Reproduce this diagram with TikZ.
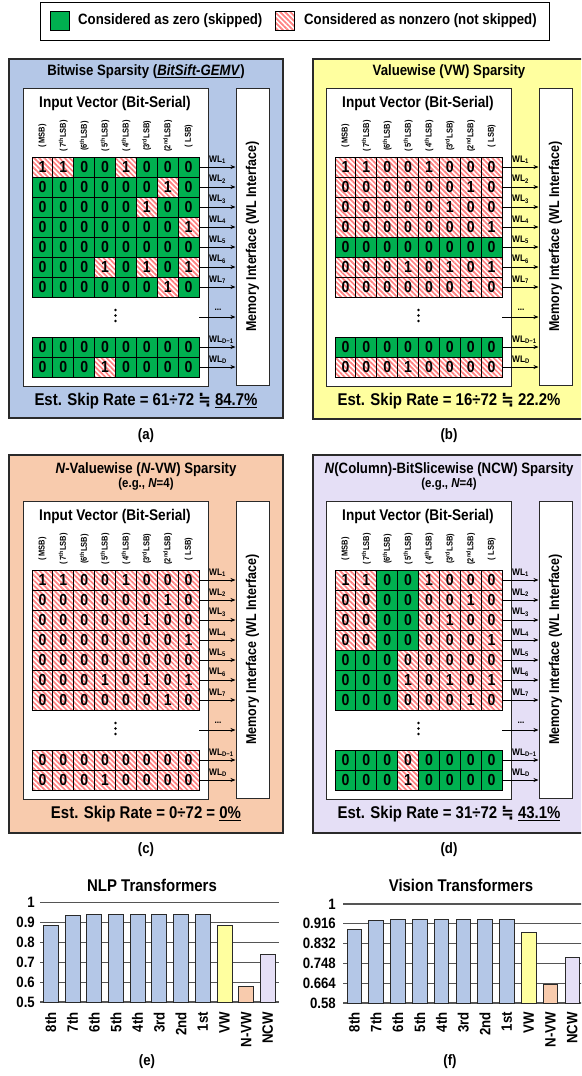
\documentclass[tikz,border=0pt]{standalone}
\usepackage{fontspec}
\setmainfont{Liberation Sans}[FakeStretch=0.88]
\newfontfamily\symf{DejaVu Sans}[FakeStretch=0.88]
\usetikzlibrary{patterns.meta,arrows.meta}
\definecolor{pblue}{HTML}{B4C7E7}
\definecolor{pyel}{HTML}{FFFF9F}
\definecolor{ppeach}{HTML}{F8CBAD}
\definecolor{plav}{HTML}{E5DFF6}
\definecolor{zgreen}{HTML}{00B050}
\definecolor{hred}{HTML}{FF8080}
\definecolor{edgec}{HTML}{2A2A2A}
\definecolor{gridc}{HTML}{555555}
\newcommand\fs[1]{\fontsize{#1}{#1}\selectfont\bfseries}
\newcommand\approxeq{{\symf\bfseries ≒}}
\newcommand\panelbody[3]{%
  \node[wbox, minimum width=185pt, minimum height=298pt] (#1-wb) at ({#2+115.5},{#3+237}) {};
  \node[wbox, minimum width=33pt, minimum height=297pt] (#1-mem) at ({#2+252.5},{#3+236.5}) {};
  \node[rotate=90, font=\fs{14.2}] (#1-memt) at (#1-mem.center) {Memory Interface (WL Interface)};
  \node[font=\fs{15.5}] (#1-ivt) at ({#2+115},{#3+103}) {Input Vector (Bit-Serial)};
  \foreach \lab [count=\i] in {{(\ MSB)},{(\ 7\textsuperscript{th}LSB)},{(6\textsuperscript{th}LSB)},{(\ 5\textsuperscript{th}LSB)},{(\ 4\textsuperscript{th}LSB)},{(3\textsuperscript{rd}LSB)},{(2\textsuperscript{nd}LSB)},{(\ LSB)}}{%
    \node[rotate=90, font=\fs{8.5}] (#1-col\i) at ({#2+32+(\i-0.5)*20.875},{#3+136}) {\lab};}
  \foreach \yy in {310,315.5,321} \fill ({#2+115.5},{#3+\yy}) circle (1.3pt);
  \coordinate (#1-dots) at ({#2+199},{#3+317});
  \draw[wl] (#1-dots) -- (#1-dots -| #1-mem.west);
  \node[font=\fs{9.5}] (#1-dotl) at ({#2+218},{#3+310}) {...};
}
\newcommand\gridrow[6]{%
  \foreach \d/\t [count=\i] in {#5}{%
    \node[cell\t] (#1-#2-\i) at ({#3+32+(\i-0.5)*20.875},{#4+10}) {\d};}
  \draw[wl] (#1-#2-8.east) -- (#1-#2-8.east -| #1-mem.west);
  \node[anchor=west, font=\fs{9.5}] (#1-#2-wl) at ({#3+209},{#4+2.5}) {WL\textsubscript{#6}};
}
\begin{document}
\begin{tikzpicture}[x=1pt,y=-1pt,
  every node/.style={inner sep=0pt},
  pbox/.style={draw=edgec, line width=1.2pt},
  wbox/.style={draw=edgec, line width=1pt, fill=white},
  cellbase/.style={draw=black, line width=0.8pt, minimum width=20.875pt, minimum height=20pt, inner sep=0pt, font=\fs{16}},
  cellg/.style={cellbase, fill=zgreen},
  cellh/.style={cellbase, preaction={fill=white}, pattern={Lines[angle=-45,distance=3.6pt,line width=1.7pt]}, pattern color=hred},
  wl/.style={-{Stealth[length=5pt,width=4pt]}, line width=0.8pt},
  ttl/.style={font=\fs{15}},
  skr/.style={font=\fs{17}},
  lab/.style={font=\fs{15}},
  gridl/.style={draw=gridc, line width=1.2pt},
  bar/.style={draw=edgec, line width=0.8pt},
  tick/.style={font=\fs{15}},
]
\useasboundingbox (0,0) rectangle (581,1076);
\clip (0,0) rectangle (581,1076);
% legend
\node[draw=black, line width=1pt, fill=white, minimum width=509pt, minimum height=38pt] (leg) at (294.5,21) {};
\node[cellg, minimum width=19pt, minimum height=19pt] (leg-g) at (59.5,21) {};
\node[anchor=west, font=\fs{15}] (leg-gt) at (78,21) {Considered as zero (skipped)};
\node[cellh, minimum width=19pt, minimum height=19pt] (leg-h) at (285,21) {};
\node[anchor=west, font=\fs{15}] (leg-ht) at (304,21) {Considered as nonzero (not skipped)};

% ---------- panel (a)
\node[pbox, fill=pblue, minimum width=274pt, minimum height=359pt] (pa) at (146,238.5) {};
\node[ttl] (pa-t) at (146,72) {Bitwise Sparsity (\underline{\textit{BitSift-GEMV}})};
\panelbody{a}{0}{0}
\gridrow{a}{1}{0}{157}{1/h,1/h,0/g,0/g,1/h,0/g,0/g,0/g}{1}
\gridrow{a}{2}{0}{177}{0/g,0/g,0/g,0/g,0/g,0/g,1/h,0/g}{2}
\gridrow{a}{3}{0}{197}{0/g,0/g,0/g,0/g,0/g,1/h,0/g,0/g}{3}
\gridrow{a}{4}{0}{217}{0/g,0/g,0/g,0/g,0/g,0/g,0/g,1/h}{4}
\gridrow{a}{5}{0}{237}{0/g,0/g,0/g,0/g,0/g,0/g,0/g,0/g}{5}
\gridrow{a}{6}{0}{257}{0/g,0/g,0/g,1/h,0/g,1/h,0/g,1/h}{6}
\gridrow{a}{7}{0}{277}{0/g,0/g,0/g,0/g,0/g,0/g,1/h,0/g}{7}
\gridrow{a}{8}{0}{337}{0/g,0/g,0/g,0/g,0/g,0/g,0/g,0/g}{D−1}
\gridrow{a}{9}{0}{357}{0/g,0/g,0/g,1/h,0/g,0/g,0/g,0/g}{D}
\node[skr] (pa-s) at (146,401) {Est. Skip Rate = 61÷72 \approxeq{} \underline{84.7\%}};
\node[lab] (pa-l) at (146,436) {(a)};

% ---------- panel (b)
\node[pbox, fill=pyel, minimum width=277pt, minimum height=360pt] (pb) at (451.5,239) {};
\node[ttl] (pb-t) at (449,72) {Valuewise (VW) Sparsity};
\panelbody{b}{303}{0}
\gridrow{b}{1}{303}{157}{1/h,1/h,0/h,0/h,1/h,0/h,0/h,0/h}{1}
\gridrow{b}{2}{303}{177}{0/h,0/h,0/h,0/h,0/h,0/h,1/h,0/h}{2}
\gridrow{b}{3}{303}{197}{0/h,0/h,0/h,0/h,0/h,1/h,0/h,0/h}{3}
\gridrow{b}{4}{303}{217}{0/h,0/h,0/h,0/h,0/h,0/h,0/h,1/h}{4}
\gridrow{b}{5}{303}{237}{0/g,0/g,0/g,0/g,0/g,0/g,0/g,0/g}{5}
\gridrow{b}{6}{303}{257}{0/h,0/h,0/h,1/h,0/h,1/h,0/h,1/h}{6}
\gridrow{b}{7}{303}{277}{0/h,0/h,0/h,0/h,0/h,0/h,1/h,0/h}{7}
\gridrow{b}{8}{303}{337}{0/g,0/g,0/g,0/g,0/g,0/g,0/g,0/g}{D−1}
\gridrow{b}{9}{303}{357}{0/h,0/h,0/h,1/h,0/h,0/h,0/h,0/h}{D}
\node[skr] (pb-s) at (449,401) {Est. Skip Rate = 16÷72 \approxeq{} 22.2\%};
\node[lab] (pb-l) at (449,436) {(b)};

% ---------- panel (c)
\node[pbox, fill=ppeach, minimum width=274pt, minimum height=378pt] (pc) at (146,644) {};
\node[ttl] (pc-t) at (146,470) {\textit{N}-Valuewise (\textit{N}-VW) Sparsity};
\node[font=\fs{13}] (pc-t2) at (146,484) {(e.g., \textit{N}=4)};
\panelbody{c}{0}{413}
\gridrow{c}{1}{0}{570}{1/h,1/h,0/h,0/h,1/h,0/h,0/h,0/h}{1}
\gridrow{c}{2}{0}{590}{0/h,0/h,0/h,0/h,0/h,0/h,1/h,0/h}{2}
\gridrow{c}{3}{0}{610}{0/h,0/h,0/h,0/h,0/h,1/h,0/h,0/h}{3}
\gridrow{c}{4}{0}{630}{0/h,0/h,0/h,0/h,0/h,0/h,0/h,1/h}{4}
\gridrow{c}{5}{0}{650}{0/h,0/h,0/h,0/h,0/h,0/h,0/h,0/h}{5}
\gridrow{c}{6}{0}{670}{0/h,0/h,0/h,1/h,0/h,1/h,0/h,1/h}{6}
\gridrow{c}{7}{0}{690}{0/h,0/h,0/h,0/h,0/h,0/h,1/h,0/h}{7}
\gridrow{c}{8}{0}{750}{0/h,0/h,0/h,0/h,0/h,0/h,0/h,0/h}{D−1}
\gridrow{c}{9}{0}{770}{0/h,0/h,0/h,1/h,0/h,0/h,0/h,0/h}{D}
\node[skr] (pc-s) at (146,814) {Est. Skip Rate = 0÷72 = \underline{0\%}};
\node[lab] (pc-l) at (146,850) {(c)};

% ---------- panel (d)
\node[pbox, fill=plav, minimum width=277pt, minimum height=378pt] (pd) at (451.5,644) {};
\node[ttl] (pd-t) at (449,470) {\textit{N}(Column)-BitSlicewise (NCW) Sparsity};
\node[font=\fs{13}] (pd-t2) at (449,484) {(e.g., \textit{N}=4)};
\panelbody{d}{303}{413}
\gridrow{d}{1}{303}{570}{1/h,1/h,0/g,0/g,1/h,0/h,0/h,0/h}{1}
\gridrow{d}{2}{303}{590}{0/h,0/h,0/g,0/g,0/h,0/h,1/h,0/h}{2}
\gridrow{d}{3}{303}{610}{0/h,0/h,0/g,0/g,0/h,1/h,0/h,0/h}{3}
\gridrow{d}{4}{303}{630}{0/h,0/h,0/g,0/g,0/h,0/h,0/h,1/h}{4}
\gridrow{d}{5}{303}{650}{0/g,0/g,0/g,0/h,0/h,0/h,0/h,0/h}{5}
\gridrow{d}{6}{303}{670}{0/g,0/g,0/g,1/h,0/h,1/h,0/h,1/h}{6}
\gridrow{d}{7}{303}{690}{0/g,0/g,0/g,0/h,0/h,0/h,1/h,0/h}{7}
\gridrow{d}{8}{303}{750}{0/g,0/g,0/g,0/h,0/g,0/g,0/g,0/g}{D−1}
\gridrow{d}{9}{303}{770}{0/g,0/g,0/g,1/h,0/g,0/g,0/g,0/g}{D}
\node[skr] (pd-s) at (449,814) {Est. Skip Rate = 31÷72 \approxeq{} \underline{43.1\%}};
\node[lab] (pd-l) at (449,850) {(d)};

% ---------- chart (e)
\node[font=\fs{17}] (e-t) at (152,885) {NLP Transformers};
\foreach \v/\t [count=\i] in {1/1,0.9/0.9,0.8/0.8,0.7/0.7,0.6/0.6,0.5/0.5}{
  \draw[gridl] (40,{1002-(\v-0.5)*198.4}) -- (279,{1002-(\v-0.5)*198.4});
  \node[anchor=east, tick] (e-y\i) at (35,{1002-(\v-0.5)*198.4}) {\t};
}
\foreach \v/\n/\c [count=\i] in {0.887/8th/pblue,0.936/7th/pblue,0.94/6th/pblue,0.94/5th/pblue,0.94/4th/pblue,0.94/3rd/pblue,0.94/2nd/pblue,0.94/1st/pblue,0.884/VW/pyel,0.577/N-VW/ppeach,0.742/NCW/plav}{
  \pgfmathsetmacro\xl{43.3+21.7*(\i-1)}
  \draw[bar, fill=\c] (\xl,1002) rectangle ({\xl+15},{1002-(\v-0.5)*198.4});
  \node[rotate=90, anchor=east, tick] (e-x\i) at ({\xl+7.5},1012) {\n};
}
\node[lab] (e-l) at (147,1062) {(e)};

% ---------- chart (f)
\node[font=\fs{17}] (f-t) at (461,885) {Vision Transformers};
\foreach \v/\t [count=\i] in {1/1,0.916/0.916,0.832/0.832,0.748/0.748,0.664/0.664,0.58/0.58}{
  \draw[gridl] (343,{1003-(\v-0.58)*235.7}) -- (590,{1003-(\v-0.58)*235.7});
  \node[anchor=east, tick] (f-y\i) at (336,{1003-(\v-0.58)*235.7}) {\t};
}
\foreach \v/\n/\c [count=\i] in {0.893/8th/pblue,0.931/7th/pblue,0.936/6th/pblue,0.936/5th/pblue,0.936/4th/pblue,0.936/3rd/pblue,0.936/2nd/pblue,0.936/1st/pblue,0.88/VW/pyel,0.659/N-VW/ppeach,0.774/NCW/plav}{
  \pgfmathsetmacro\xl{347+21.8*(\i-1)}
  \draw[bar, fill=\c] (\xl,1003) rectangle ({\xl+14.5},{1003-(\v-0.58)*235.7});
  \node[rotate=90, anchor=east, tick] (f-x\i) at ({\xl+7.25},1012) {\n};
}
\node[lab] (f-l) at (450,1062) {(f)};
\end{tikzpicture}
\end{document}
